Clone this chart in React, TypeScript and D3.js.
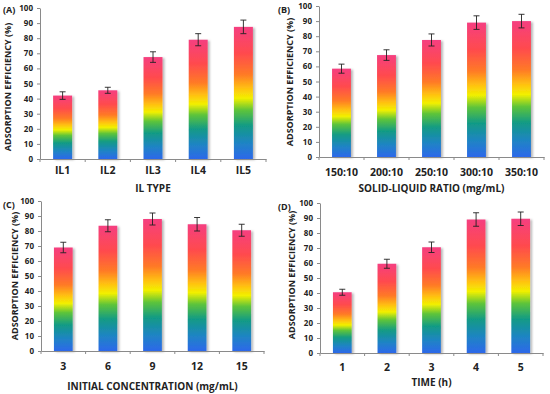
import React, { useEffect, useRef } from "react";
import * as d3 from "d3";

// panel data
const catsA = ["IL1", "IL2", "IL3", "IL4", "IL5"];
const valsA = [42, 45.5, 67.5, 79, 87.5];
const errA = [2.5, 2, 3.5, 4, 4.5];

const catsB = ["150:10", "200:10", "250:10", "300:10", "350:10"];
const valsB = [58.5, 67.5, 77.5, 89, 90];
const errB = [3, 3.5, 4, 4.5, 4.5];

const catsC = ["3", "6", "9", "12", "15"];
const valsC = [69, 83.5, 88, 84.5, 80.5];
const errC = [3.5, 4, 4, 4.5, 4];

const catsD = ["1", "2", "3", "4", "5"];
const valsD = [40.5, 59.5, 70.5, 89, 89.5];
const errD = [2, 3, 3.5, 4.5, 4.5];

const yTicks = [0, 10, 20, 30, 40, 50, 60, 70, 80, 90, 100];
const yTitle = "ADSORPTION EFFICIENCY (%)";

const panels = [
  { tag: "(A)", cats: catsA, vals: valsA, errs: errA, xTitle: "IL TYPE",
    x0: 40, w: 226, top: 8, bottom: 159, catY: 174, titleY: 192, tagX: 3, tagY: 13, yTitleX: 8, yTitleY: 87 },
  { tag: "(B)", cats: catsB, vals: valsB, errs: errB, xTitle: "SOLID-LIQUID RATIO (mg/mL)",
    x0: 319, w: 225, top: 6, bottom: 157, catY: 176, titleY: 192, tagX: 278, tagY: 13, yTitleX: 290, yTitleY: 82 },
  { tag: "(C)", cats: catsC, vals: valsC, errs: errC, xTitle: "INITIAL CONCENTRATION (mg/mL)",
    x0: 41, w: 223, top: 201, bottom: 351, catY: 370, titleY: 390, tagX: 3, tagY: 208, yTitleX: 15, yTitleY: 276 },
  { tag: "(D)", cats: catsD, vals: valsD, errs: errD, xTitle: "TIME (h)",
    x0: 320, w: 223, top: 203, bottom: 353, catY: 371, titleY: 386, tagX: 278, tagY: 210, yTitleX: 292, yTitleY: 275 },
];

const FONT = "'Open Sans', 'DejaVu Sans', sans-serif";

export default function App() {
  const ref = useRef<SVGSVGElement>(null);

  useEffect(() => {
    const svg = d3.select(ref.current);
    svg.selectAll("*").remove();

    const defs = svg.append("defs");
    const grad = defs
      .append("linearGradient")
      .attr("id", "rainbow")
      .attr("x1", 0).attr("y1", 1).attr("x2", 0).attr("y2", 0);
    const stops: [number, string][] = [
      [0, "#2d68ea"],
      [0.12, "#1f84c4"],
      [0.25, "#119a86"],
      [0.37, "#5ec43a"],
      [0.46, "#f2f000"],
      [0.53, "#ffc410"],
      [0.64, "#ff7a26"],
      [0.8, "#ff4a4e"],
      [1, "#f53f80"],
    ];
    stops.forEach(([o, c]) => grad.append("stop").attr("offset", o).attr("stop-color", c));

    const f = defs.append("filter").attr("id", "shadow")
      .attr("x", "-20%").attr("y", "-5%").attr("width", "160%").attr("height", "115%");
    f.append("feDropShadow").attr("dx", 2).attr("dy", 1).attr("stdDeviation", 1.2)
      .attr("flood-color", "#000").attr("flood-opacity", 0.28);

    panels.forEach((p) => {
      const g = svg.append("g");
      const x = d3.scaleBand<string>()
        .domain(p.cats)
        .range([p.x0, p.x0 + p.w])
        .paddingInner(0.58)
        .paddingOuter(0.29);
      const y = d3.scaleLinear().domain([0, 100]).range([p.bottom, p.top]);

      // bars
      g.selectAll("rect.bar")
        .data(p.vals)
        .join("rect")
        .attr("class", "bar")
        .attr("x", (_, i) => x(p.cats[i])!)
        .attr("width", x.bandwidth())
        .attr("y", (d) => y(d))
        .attr("height", (d) => y(0) - y(d))
        .attr("fill", "url(#rainbow)")
        .attr("filter", "url(#shadow)");

      // error bars
      const eg = g.append("g").attr("stroke", "#222").attr("stroke-width", 0.9);
      p.vals.forEach((v, i) => {
        const cx = x(p.cats[i])! + x.bandwidth() / 2;
        const e = p.errs[i];
        eg.append("line").attr("x1", cx).attr("x2", cx).attr("y1", y(v + e)).attr("y2", y(v - e));
        eg.append("line").attr("x1", cx - 3).attr("x2", cx + 3).attr("y1", y(v + e)).attr("y2", y(v + e));
        eg.append("line").attr("x1", cx - 3).attr("x2", cx + 3).attr("y1", y(v - e)).attr("y2", y(v - e));
      });

      // y axis
      const ya = g.append("g")
        .attr("transform", `translate(${p.x0},0)`)
        .call(d3.axisLeft(y).tickValues(yTicks).tickSize(3).tickPadding(4).tickSizeOuter(0));
      ya.select(".domain").attr("stroke", "#8a8a8a");
      ya.selectAll(".tick line").attr("stroke", "#8a8a8a");
      ya.selectAll("text")
        .attr("font-family", FONT).attr("font-weight", "bold")
        .attr("font-size", 8).attr("fill", "#222");

      // x axis
      const xa = g.append("g")
        .attr("transform", `translate(0,${p.bottom})`)
        .call(d3.axisBottom(x).tickSize(0).tickSizeOuter(0).tickPadding(0));
      xa.select(".domain").attr("stroke", "#8a8a8a");
      xa.selectAll("text")
        .attr("y", p.catY - p.bottom)
        .attr("dy", 0)
        .attr("font-family", FONT).attr("font-weight", "bold")
        .attr("font-size", 10.5).attr("fill", "#222");
      const step = x.step();
      for (let i = 0; i <= p.cats.length; i++) {
        xa.append("line")
          .attr("x1", p.x0 + i * step).attr("x2", p.x0 + i * step)
          .attr("y1", 0).attr("y2", 3)
          .attr("stroke", "#8a8a8a");
      }

      // titles
      g.append("text")
        .attr("x", p.x0 + p.w / 2)
        .attr("y", p.titleY)
        .attr("text-anchor", "middle")
        .attr("font-family", FONT).attr("font-weight", "bold")
        .attr("font-size", 10).attr("fill", "#222")
        .text(p.xTitle);
      g.append("text")
        .attr("transform", `translate(${p.yTitleX},${p.yTitleY}) rotate(-90)`)
        .attr("text-anchor", "middle")
        .attr("dy", "0.35em")
        .attr("font-family", FONT).attr("font-weight", "bold")
        .attr("font-size", 9).attr("fill", "#222")
        .text(yTitle);
      g.append("text")
        .attr("x", p.tagX)
        .attr("y", p.tagY)
        .attr("font-family", FONT).attr("font-weight", "bold")
        .attr("font-size", 9).attr("fill", "#222")
        .text(p.tag);
    });
  }, []);

  return (
    <svg
      ref={ref}
      width={550}
      height={394}
      style={{ position: "absolute", left: 0, top: 0, background: "#fff" }}
    />
  );
}
